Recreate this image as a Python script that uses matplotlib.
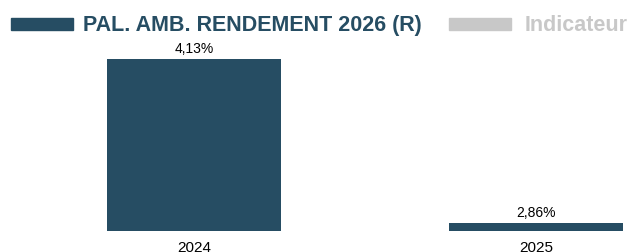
import matplotlib
matplotlib.use("Agg")
import matplotlib.pyplot as plt
from matplotlib.patches import Rectangle

categories = ["2024", "2025"]
values = [4.13, 2.86]
value_labels = ["4,13%", "2,86%"]
series_name = "PAL. AMB. RENDEMENT 2026 (R)"
other_name = "Indicateur"

plt.rcParams['font.family'] = ['Liberation Sans', 'DejaVu Sans']
W, H = 627, 252
fig = plt.figure(figsize=(W / 100, H / 100), dpi=100)
bar_color = "#264d63"
gray = "#c8c8c8"

ax = fig.add_axes([0, (H - 231) / H, 1, (231 - 59) / H])
x = list(range(len(categories)))
ax.bar(x, values, width=0.51, color=bar_color, bottom=0)
ax.set_ylim(2.798, 4.13)
ax.set_xlim(-0.567, 1.266)
for xi, v, lab in zip(x, values, value_labels):
    ax.annotate(lab, (xi, v), xytext=(0, 2), textcoords="offset points",
                ha="center", va="bottom", fontsize=10, color="#000000",
                annotation_clip=False)
ax.set_xticks(x)
ax.set_xticklabels(categories, fontsize=11)
ax.tick_params(axis="x", length=0, pad=7)
ax.set_yticks([])
for s in ax.spines.values():
    s.set_visible(False)

# legend
fig.patches.append(Rectangle((11 / W, 1 - 30 / H), 62 / W, 12 / H,
                             transform=fig.transFigure, color=bar_color))
fig.text(83 / W, 1 - 31 / H, series_name, fontsize=15.5, fontweight="bold",
         color=bar_color, va="baseline", ha="left")
fig.patches.append(Rectangle((449 / W, 1 - 30 / H), 62 / W, 12 / H,
                             transform=fig.transFigure, color=gray))
fig.text(525 / W, 1 - 31 / H, other_name, fontsize=15.5, fontweight="bold",
         color=gray, va="baseline", ha="left")

fig.savefig("out.png", dpi=100)
